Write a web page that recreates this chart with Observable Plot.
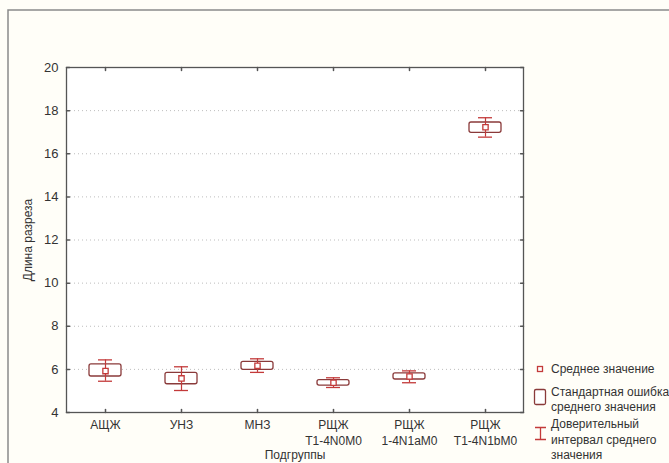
<!DOCTYPE html>
<html><head><meta charset="utf-8">
<script src="https://cdn.jsdelivr.net/npm/d3@7"></script>
<script src="https://cdn.jsdelivr.net/npm/@observablehq/plot@0.6"></script>
<style>
html,body{margin:0;padding:0;background:#fffef8;overflow:hidden;}
#chart{position:relative;width:669px;height:463px;}
</style></head>
<body><div id="chart"></div>
<script>
const categories = ["АЩЖ","УНЗ","МНЗ","РЩЖ\nT1-4N0M0","РЩЖ\n1-4N1aM0","РЩЖ\nT1-4N1bM0"];
const means  = [5.92, 5.58, 6.17, 5.38, 5.67, 17.23];
const seLow  = [5.67, 5.31, 5.98, 5.25, 5.53, 16.97];
const seHigh = [6.23, 5.84, 6.35, 5.50, 5.81, 17.45];
const ciLow  = [5.45, 5.02, 5.86, 5.16, 5.38, 16.77];
const ciHigh = [6.44, 6.12, 6.49, 5.61, 5.93, 17.67];
const yTicks = [4, 6, 8, 10, 12, 14, 16, 18, 20];
const legendLabels = ["Среднее значение", "Стандартная ошибка\nсреднего значения", "Доверительный\nинтервал среднего\nзначения"];

const data = categories.map((c, i) => ({cat: c, mean: means[i], seLow: seLow[i], seHigh: seHigh[i], ciLow: ciLow[i], ciHigh: ciHigh[i]}));

const BOX = "#8a3a3a", RED = "#c33a3a", AXIS = "#555";
const tickShape = {draw(context, l) { context.moveTo(0, 0); context.lineTo(0, -l); }};

const plot = Plot.plot({
  width: 669, height: 463,
  marginLeft: 66, marginRight: 146, marginTop: 67, marginBottom: 51,
  style: {fontFamily: "Arial, 'Liberation Sans', sans-serif", background: "transparent", color: "#333"},
  x: {type: "band", domain: categories, padding: 0},
  y: {domain: [4, 20]},
  marks: [
    Plot.frame({fill: "white", stroke: null}),
    Plot.gridY(yTicks.slice(1, -1), {stroke: "#bdbdbd", strokeOpacity: 1, strokeDasharray: "1,3"}),
    Plot.barY(data, {x: "cat", y1: "seLow", y2: "seHigh", fill: "white", stroke: BOX, strokeWidth: 1.3, insetLeft: 22, insetRight: 22, rx: 2}),
    Plot.ruleX(data, {x: "cat", y1: "ciLow", y2: "ciHigh", stroke: RED, strokeWidth: 1.2}),
    Plot.tickY(data, {x: "cat", y: "ciHigh", stroke: RED, strokeWidth: 1.3, insetLeft: 31, insetRight: 31}),
    Plot.tickY(data, {x: "cat", y: "ciLow", stroke: RED, strokeWidth: 1.3, insetLeft: 31, insetRight: 31}),
    Plot.dot(data, {x: "cat", y: "mean", symbol: "square", r: 3, stroke: RED, strokeWidth: 1.3, fill: "white"}),
    Plot.vector(yTicks, {y: d => d, frameAnchor: "left", rotate: 90, length: 3, anchor: "start", shape: tickShape, stroke: AXIS}),
    Plot.vector(yTicks, {y: d => d, frameAnchor: "right", rotate: 270, length: 3, anchor: "start", shape: tickShape, stroke: AXIS}),
    Plot.vector(categories, {x: d => d, frameAnchor: "bottom", rotate: 0, length: 3, anchor: "start", shape: tickShape, stroke: AXIS}),
    Plot.vector(categories, {x: d => d, frameAnchor: "top", rotate: 180, length: 3, anchor: "start", shape: tickShape, stroke: AXIS}),
    Plot.frame({stroke: AXIS, strokeWidth: 1.3}),
    Plot.axisY({ticks: yTicks, tickSize: 0, tickPadding: 8, fontSize: 13, label: "Длина разреза", labelAnchor: "center", labelArrow: "none", labelOffset: 43}),
    Plot.axisX({tickSize: 0, tickPadding: 5, fontSize: 12, lineHeight: 1.35, label: "Подгруппы", labelAnchor: "center", labelArrow: "none", labelOffset: 46})
  ]
});
plot.style.position = "absolute";
plot.style.left = "0px";
plot.style.top = "0px";
document.getElementById("chart").appendChild(plot);

// panel edge and legend
const svg = d3.select(plot);
svg.selectAll("[aria-label='y-axis label'] text, [aria-label='x-axis label'] text").style("font-size", "12px");
svg.insert("path", ":first-child").attr("d", "M8,463V10H669").attr("fill", "none").attr("stroke", "#8a8a8a").attr("stroke-width", 1.5);

const lg = svg.append("g").attr("font-family", "Arial, 'Liberation Sans', sans-serif").attr("font-size", 12).attr("fill", "#333").attr("text-anchor", "start");
// mean symbol
lg.append("rect").attr("x", 537.5).attr("y", 366.5).attr("width", 5).attr("height", 5).attr("fill", "white").attr("stroke", RED).attr("stroke-width", 1.3);
// box symbol
lg.append("rect").attr("x", 534.5).attr("y", 389.5).attr("width", 11).attr("height", 15).attr("rx", 1.5).attr("fill", "white").attr("stroke", BOX).attr("stroke-width", 1.3);
// whisker symbol
lg.append("path").attr("d", "M535,427.5H546M540.5,427.5V439.5M535,439.5H546").attr("fill", "none").attr("stroke", RED).attr("stroke-width", 1.3);
const starts = [369, 392, 424];
const spacing = [15, 15, 15.5];
legendLabels.forEach((lab, i) => {
  const lines = lab.split("\n");
  lines.forEach((ln, j) => {
    lg.append("text").attr("x", 551).attr("y", starts[i] + j * spacing[i]).attr("dy", "0.35em").text(ln);
  });
});
</script>
</body></html>
